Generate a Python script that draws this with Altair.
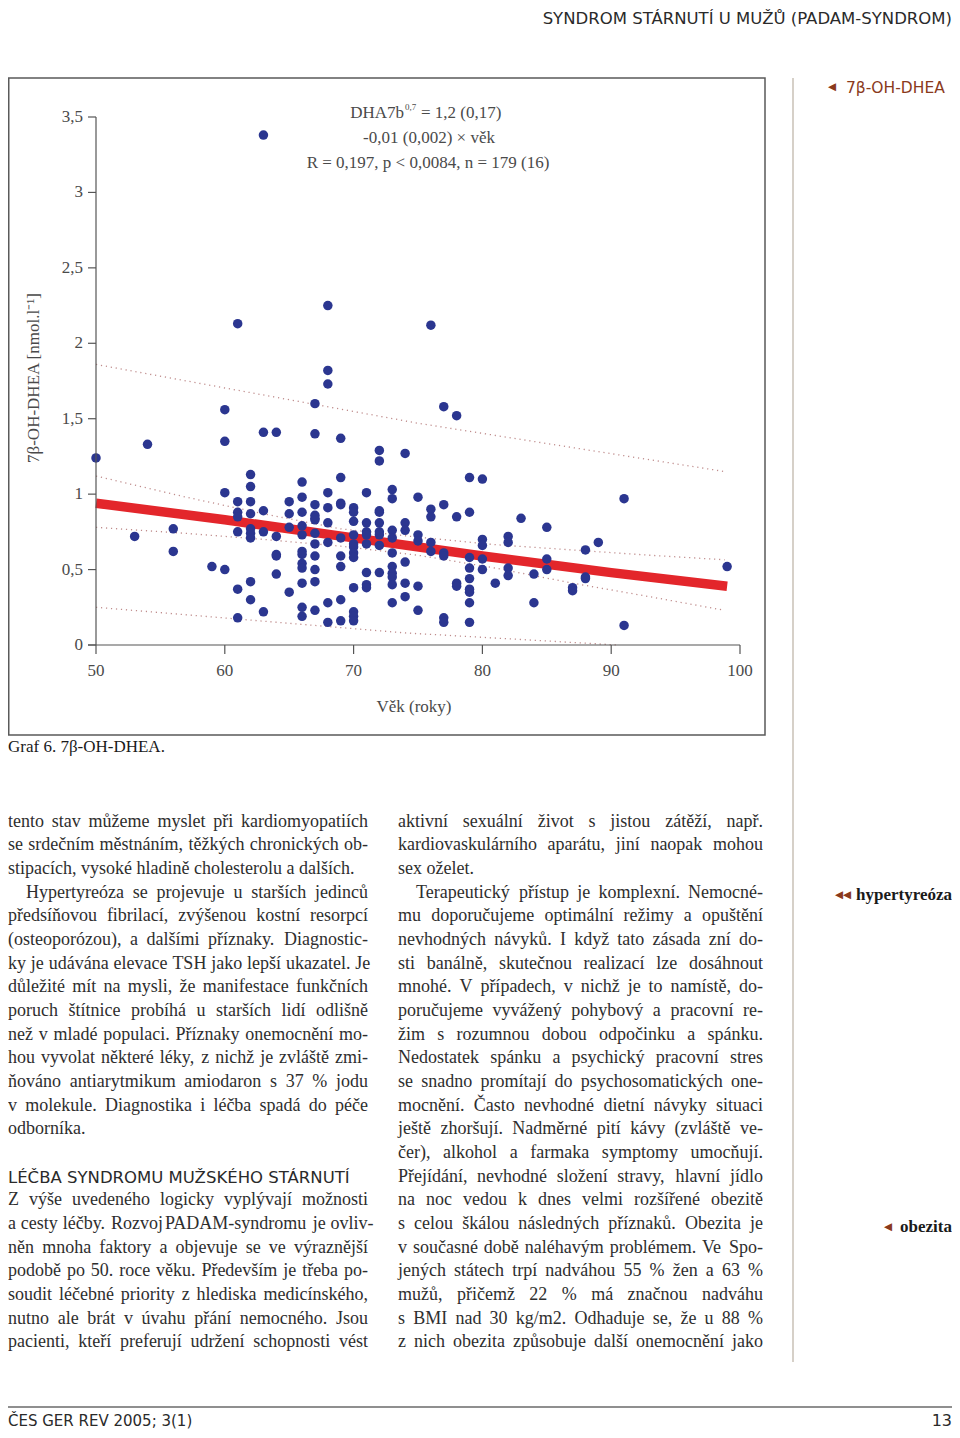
import altair as alt
import pandas as pd

# ---------------- data ----------------
values_by_age = {
    50: [1.24],
    53: [0.72],
    54: [1.33],
    56: [0.77, 0.62],
    59: [0.52],
    60: [1.56, 1.35, 1.01, 0.50],
    61: [2.13, 0.95, 0.88, 0.85, 0.75, 0.37, 0.18],
    62: [1.13, 1.05, 0.95, 0.87, 0.77, 0.74, 0.71, 0.42, 0.30],
    63: [3.38, 1.41, 0.89, 0.75, 0.22],
    64: [1.41, 0.72, 0.60, 0.59, 0.47],
    65: [0.95, 0.87, 0.78, 0.35],
    66: [1.08, 0.98, 0.88, 0.79, 0.73, 0.62, 0.60, 0.54, 0.51, 0.41, 0.25, 0.19],
    67: [1.60, 1.40, 0.93, 0.86, 0.84, 0.83, 0.74, 0.67, 0.59, 0.50, 0.42, 0.23],
    68: [2.25, 1.82, 1.73, 1.01, 0.91, 0.81, 0.68, 0.28, 0.15],
    69: [1.37, 1.11, 0.94, 0.93, 0.71, 0.59, 0.52, 0.30, 0.16],
    70: [0.91, 0.88, 0.82, 0.73, 0.67, 0.65, 0.61, 0.58, 0.38, 0.22, 0.19, 0.16],
    71: [1.01, 0.81, 0.75, 0.73, 0.67, 0.48, 0.40, 0.38],
    72: [1.29, 1.22, 0.89, 0.88, 0.81, 0.75, 0.73, 0.66, 0.48],
    73: [1.03, 0.97, 0.76, 0.71, 0.61, 0.52, 0.475, 0.45, 0.40, 0.28],
    74: [1.27, 0.81, 0.76, 0.55, 0.41, 0.32],
    75: [0.98, 0.73, 0.69, 0.39, 0.23],
    76: [2.12, 0.90, 0.85, 0.68, 0.62],
    77: [1.58, 0.93, 0.61, 0.59, 0.18, 0.15],
    78: [1.52, 0.85, 0.41, 0.39],
    79: [1.11, 0.88, 0.58, 0.51, 0.44, 0.37, 0.35, 0.28, 0.15],
    80: [1.10, 0.70, 0.66, 0.57, 0.50],
    81: [0.41],
    82: [0.72, 0.68, 0.51, 0.46],
    83: [0.84],
    84: [0.47, 0.28],
    85: [0.78, 0.57, 0.50],
    87: [0.38, 0.36],
    88: [0.63, 0.45, 0.44],
    89: [0.68],
    91: [0.97, 0.13],
    99: [0.52],
}

fit_ages = [50, 60, 70, 80, 90, 99]
fit_values = [0.94, 0.83, 0.71, 0.59, 0.48, 0.39]

conf_ages = [50, 57, 63, 69, 75, 81, 87, 93, 98.8]
conf_upper = [1.12, 0.98, 0.87, 0.77, 0.715, 0.665, 0.63, 0.595, 0.565]
conf_lower = [0.78, 0.74, 0.70, 0.655, 0.595, 0.51, 0.41, 0.32, 0.23]

pred_upper_ages = [50, 75, 98.8]
pred_upper = [1.86, 1.47, 1.15]
pred_lower_ages = [50, 62, 74, 90.5]
pred_lower = [0.25, 0.165, 0.08, 0.0]

y_ticks = [0, 0.5, 1, 1.5, 2, 2.5, 3, 3.5]
y_tick_labels = ["0", "0,5", "1", "1,5", "2", "2,5", "3", "3,5"]
x_ticks = [50, 60, 70, 80, 90, 100]
x_tick_labels = ["50", "60", "70", "80", "90", "100"]

header_text = "SYNDROM STÁRNUTÍ U MUŽŮ (PADAM-SYNDROM)"
footer_left = "ČES GER REV 2005; 3(1)"
footer_right = "13"
caption = "Graf 6. 7β-OH-DHEA."
x_title = "Věk (roky)"
y_title = "7β-OH-DHEA [nmol.l⁻¹]"
eq_line1_a = "DHA7b"
eq_line1_sup = "0,7"
eq_line1_b = "= 1,2 (0,17)"
eq_line2 = "-0,01 (0,002) × věk"
eq_line3 = "R = 0,197, p < 0,0084, n = 179 (16)"
note_graph = "7β-OH-DHEA"
note_hyper = "hypertyreóza"
note_obez = "obezita"
heading = "LÉČBA SYNDROMU MUŽSKÉHO STÁRNUTÍ"

left_par1 = [
    "tento stav můžeme myslet při kardiomyopatiích",
    "se srdečním městnáním, těžkých chronických ob-",
    "stipacích, vysoké hladině cholesterolu a dalších.",
]
left_par2 = [
    "Hypertyreóza se projevuje u starších jedinců",
    "předsíňovou fibrilací, zvýšenou kostní resorpcí",
    "(osteoporózou), a dalšími příznaky. Diagnostic-",
    "ky je udávána elevace TSH jako lepší ukazatel. Je",
    "důležité mít na mysli, že manifestace funkčních",
    "poruch štítnice probíhá u starších lidí odlišně",
    "než v mladé populaci. Příznaky onemocnění mo-",
    "hou vyvolat některé léky, z nichž je zvláště zmi-",
    "ňováno antiarytmikum amiodaron s 37 % jodu",
    "v molekule. Diagnostika i léčba spadá do péče",
    "odborníka.",
]
left_par3 = [
    "Z výše uvedeného logicky vyplývají možnosti",
    "a cesty léčby. Rozvoj PADAM-syndromu je ovliv-",
    "něn mnoha faktory a objevuje se ve výraznější",
    "podobě po 50. roce věku. Především je třeba po-",
    "soudit léčebné priority z hlediska medicínského,",
    "nutno ale brát v úvahu přání nemocného. Jsou",
    "pacienti, kteří preferují udržení schopnosti vést",
]
right_par1 = [
    "aktivní sexuální život s jistou zátěží, např.",
    "kardiovaskulárního aparátu, jiní naopak mohou",
    "sex oželet.",
]
right_par2 = [
    "Terapeutický přístup je komplexní. Nemocné-",
    "mu doporučujeme optimální režimy a opuštění",
    "nevhodných návyků. I když tato zásada zní do-",
    "sti banálně, skutečnou realizací lze dosáhnout",
    "mnohé. V případech, v nichž je to namístě, do-",
    "poručujeme vyvážený pohybový a pracovní re-",
    "žim s rozumnou dobou odpočinku a spánku.",
    "Nedostatek spánku a psychický pracovní stres",
    "se snadno promítají do psychosomatických one-",
    "mocnění. Často nevhodné dietní návyky situaci",
    "ještě zhoršují. Nadměrné pití kávy (zvláště ve-",
    "čer), alkohol a farmaka symptomy umocňují.",
    "Přejídání, nevhodné složení stravy, hlavní jídlo",
    "na noc vedou k dnes velmi rozšířené obezitě",
    "s celou škálou následných příznaků. Obezita je",
    "v současné době naléhavým problémem. Ve Spo-",
    "jených státech trpí nadváhou 55 % žen a 63 %",
    "mužů, přičemž 22 % má značnou nadváhu",
    "s BMI nad 30 kg/m2. Odhaduje se, že u 88 %",
    "z nich obezita způsobuje další onemocnění jako",
]

# ---------------- layout helpers ----------------
W, H = 944, 1422
OFF = 8


def pg(v):
    """page pixel -> chart pixel"""
    return v - OFF


SERIF = "Liberation Serif"
SANS = "DejaVu Sans"
BLUE = "#2b3690"
RED = "#e3262b"
DOT = "#bf8c8c"
AXC = "#555555"
LBL = "#4a4a4a"
TXT = "#2e2e2e"
BROWN = "#8a3a1c"

xs = alt.Scale(domain=[50, 100], range=[pg(96), pg(740)], zero=False, nice=False)
ys = alt.Scale(domain=[0, 3.5], range=[pg(645), pg(117)], zero=False, nice=False)

one = pd.DataFrame({"k": [0]})


def text_layer(rows, **kw):
    df = pd.DataFrame(rows, columns=["t", "px", "py"])
    return alt.Chart(df).mark_text(**kw).encode(
        x=alt.X("px:Q", scale=None, axis=None),
        y=alt.Y("py:Q", scale=None, axis=None),
        text="t:N",
    )


# ---------------- scatter ----------------
pts = pd.DataFrame(
    [(a, v) for a, vs in values_by_age.items() for v in vs], columns=["age", "val"]
)
points = alt.Chart(pts).mark_circle(size=90, color=BLUE, opacity=1).encode(
    x=alt.X("age:Q", scale=xs, axis=None), y=alt.Y("val:Q", scale=ys, axis=None)
)

bands = pd.concat(
    [
        pd.DataFrame({"age": conf_ages, "val": conf_upper, "b": "cu"}),
        pd.DataFrame({"age": conf_ages, "val": conf_lower, "b": "cl"}),
        pd.DataFrame({"age": pred_upper_ages, "val": pred_upper, "b": "pu"}),
        pd.DataFrame({"age": pred_lower_ages, "val": pred_lower, "b": "pl"}),
    ]
)
band_lines = alt.Chart(bands).mark_line(
    color=DOT, strokeWidth=1.3, strokeDash=[1.2, 3.8]
).encode(
    x=alt.X("age:Q", scale=xs, axis=None),
    y=alt.Y("val:Q", scale=ys, axis=None),
    detail="b:N",
)

fit = alt.Chart(pd.DataFrame({"age": fit_ages, "val": fit_values})).mark_line(
    color=RED, strokeWidth=9.5, strokeCap="butt"
).encode(x=alt.X("age:Q", scale=xs, axis=None), y=alt.Y("val:Q", scale=ys, axis=None))

# ---------------- axes ----------------
y_axis_line = alt.Chart(pd.DataFrame({"a": [50], "v0": [0], "v1": [3.5]})).mark_rule(
    color=AXC, strokeWidth=1.2
).encode(
    x=alt.X("a:Q", scale=xs, axis=None),
    y=alt.Y("v0:Q", scale=ys, axis=None),
    y2="v1:Q",
)
x_axis_line = alt.Chart(pd.DataFrame({"v": [0]})).mark_rule(
    color=AXC, strokeWidth=1.2
).encode(
    y=alt.Y("v:Q", scale=ys, axis=None), x=alt.value(pg(88)), x2=alt.value(pg(740))
)
ytk = pd.DataFrame({"t": y_ticks, "lab": y_tick_labels})
y_tick_rules = alt.Chart(ytk).mark_rule(color=AXC, strokeWidth=1.2).encode(
    y=alt.Y("t:Q", scale=ys, axis=None), x=alt.value(pg(88)), x2=alt.value(pg(96))
)
y_tick_text = alt.Chart(ytk).mark_text(
    font=SERIF, fontSize=17, color=LBL, align="right", baseline="middle"
).encode(y=alt.Y("t:Q", scale=ys, axis=None), x=alt.value(pg(83)), text="lab:N")
xtk = pd.DataFrame({"t": x_ticks, "lab": x_tick_labels})
x_tick_rules = alt.Chart(xtk).mark_rule(color=AXC, strokeWidth=1.2).encode(
    x=alt.X("t:Q", scale=xs, axis=None), y=alt.value(pg(645)), y2=alt.value(pg(654))
)
x_tick_text = alt.Chart(xtk).mark_text(
    font=SERIF, fontSize=17, color=LBL, align="center", baseline="middle"
).encode(x=alt.X("t:Q", scale=xs, axis=None), y=alt.value(pg(671)), text="lab:N")

# ---------------- frame & rules ----------------
frame = alt.Chart(one).mark_rect(
    fillOpacity=0, stroke="#5a5a5a", strokeWidth=1.5
).encode(
    x=alt.value(0.75), x2=alt.value(pg(765)), y=alt.value(pg(78)), y2=alt.value(pg(735))
)
separator = alt.Chart(one).mark_rule(color="#c8c0b6", strokeWidth=1.5).encode(
    x=alt.value(pg(793)), y=alt.value(pg(78)), y2=alt.value(pg(1362))
)
footer_rule = alt.Chart(one).mark_rule(color="#6a6a6a", strokeWidth=1.5).encode(
    x=alt.value(0), x2=alt.value(W), y=alt.value(H - 23)
)

# ---------------- texts ----------------
titles_plot = text_layer(
    [[x_title, pg(414), pg(707)]],
    font=SERIF, fontSize=17, color=LBL, align="center", baseline="middle",
)
ytitle = text_layer(
    [[y_title, pg(34), pg(378)]],
    font=SERIF, fontSize=17, color=LBL, align="center", baseline="middle", angle=270,
)
eq_main = text_layer(
    [[eq_line2, pg(429), pg(138)], [eq_line3, pg(428), pg(163)]],
    font=SERIF, fontSize=17, color=LBL, align="center", baseline="middle",
)
eq_a = text_layer(
    [[eq_line1_a, pg(404), pg(113)]],
    font=SERIF, fontSize=17, color=LBL, align="right", baseline="middle",
)
eq_sup = text_layer(
    [[eq_line1_sup, pg(405), pg(107)]],
    font=SERIF, fontSize=9, color=LBL, align="left", baseline="middle",
)
eq_b = text_layer(
    [[eq_line1_b, pg(421), pg(113)]],
    font=SERIF, fontSize=17, color=LBL, align="left", baseline="middle",
)
cap = text_layer(
    [[caption, 0, pg(752)]],
    font=SERIF, fontSize=17, color="#1a1a1a", align="left", baseline="alphabetic",
)
header = text_layer(
    [[header_text, W, 16]],
    font=SANS, fontSize=16.5, color="#2a2a2a", align="right", baseline="alphabetic",
)
footer_l = text_layer(
    [[footer_left, 0, H - 4]],
    font=SANS, fontSize=15, color="#2a2a2a", align="left", baseline="alphabetic",
)
footer_r = text_layer(
    [[footer_right, W, H - 4]],
    font=SANS, fontSize=16, color="#2a2a2a", align="right", baseline="alphabetic",
)
note1 = text_layer(
    [[note_graph, pg(846), pg(93)]],
    font=SANS, fontSize=15.5, color=BROWN, align="left", baseline="alphabetic",
)
notes_bold = text_layer(
    [[note_hyper, pg(856), pg(900)], [note_obez, pg(900), pg(1232)]],
    font=SERIF, fontSize=17, fontWeight="bold", color="#1a1a1a", align="left",
    baseline="alphabetic",
)
tri = text_layer(
    [["◀", pg(832), pg(87)], ["◀◀", pg(843), pg(895)], ["◀", pg(888), pg(1227)]],
    font=SANS, fontSize=10.5, color=BROWN, align="center", baseline="middle",
)

# ---- justified body text (word placement from Times-compatible advance widths)
FS = 18
ADV = {" ": 250, ",": 250, ".": 250, "-": 333, "(": 333, ")": 333, "%": 833,
       "/": 278, ":": 278, ";": 278, "f": 333, "i": 278, "í": 278, "j": 278,
       "l": 278, "t": 278, "r": 333, "ř": 333, "s": 389, "š": 389, "m": 778,
       "w": 722, "a": 444, "á": 444, "c": 444, "č": 444, "e": 444, "é": 444,
       "ě": 444, "z": 444, "ž": 444, "A": 722, "B": 667, "C": 667, "Č": 667,
       "D": 722, "E": 611, "H": 722, "I": 333, "J": 389, "M": 889, "N": 722,
       "O": 722, "P": 556, "S": 556, "T": 611, "V": 722, "Z": 611, "K": 722}


def word_w(w):
    return sum(ADV.get(ch, 500) for ch in w) * FS / 1000.0


LINE0 = 822 + 4.5  # page baseline of the first body line
LH = 23.68
IND = 18
LEFT_COL = (max(pg(4), 0), pg(368))
RIGHT_COL = (pg(398), pg(763))


def col_rows(col, pars, start_line):
    rows = []
    k = start_line
    x_left, x_right = col
    for lines, indent, ends in pars:
        for j, s in enumerate(lines):
            x0 = x_left + (IND if (indent and j == 0) else 0)
            y = pg(LINE0 + LH * k)
            words = s.split(" ")
            last = ends and j == len(lines) - 1
            if last or len(words) == 1:
                gap = 0.25 * FS
            else:
                tot = sum(word_w(w) for w in words)
                gap = max((x_right - x0 - tot) / (len(words) - 1), 0.27 * FS)
            x = x0
            for w in words:
                rows.append([w, x, y])
                x += word_w(w) + gap
            k += 1
    return rows


body_rows = (
    col_rows(LEFT_COL, [(left_par1, False, True), (left_par2, True, True)], 0)
    + col_rows(LEFT_COL, [(left_par3, False, False)], 16)
    + col_rows(RIGHT_COL, [(right_par1, False, True), (right_par2, True, False)], 0)
)
body = text_layer(
    body_rows, font=SERIF, fontSize=FS, color=TXT, align="left", baseline="alphabetic"
)
head = text_layer(
    [[heading, 0, pg(LINE0 + LH * 15 + 1.5)]],
    font=SANS, fontSize=16.5, color="#2a2a2a", align="left", baseline="alphabetic",
)

chart = alt.layer(
    frame, separator, footer_rule,
    band_lines, fit, points,
    y_axis_line, x_axis_line, y_tick_rules, x_tick_rules, y_tick_text, x_tick_text,
    titles_plot, ytitle, eq_main, eq_a, eq_sup, eq_b,
    cap, header, footer_l, footer_r, note1, notes_bold, tri, body, head,
).properties(
    width=W, height=H, autosize=alt.AutoSizeParams(type="none"), padding=0,
    background="white",
).configure_view(stroke=None)

chart.save("out.html", embed_options={"renderer": "svg", "actions": False})
